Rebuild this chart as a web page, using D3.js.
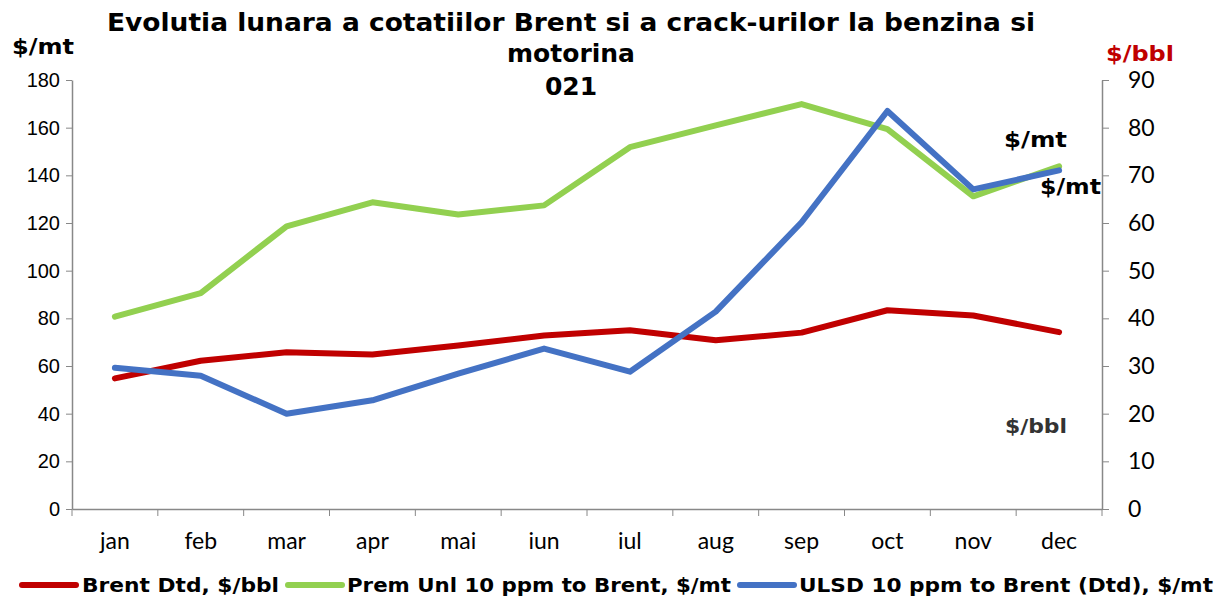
<!DOCTYPE html>
<html>
<head>
<meta charset="utf-8">
<script src="https://cdn.jsdelivr.net/npm/d3@7"></script>
<style>
  body { margin: 0; background: #fff; }
  svg { display: block; }
</style>
</head>
<body>
<svg id="chart" width="1224" height="599"></svg>
<script>
const months = ['jan', 'feb', 'mar', 'apr', 'mai', 'iun', 'iul', 'aug', 'sep', 'oct', 'nov', 'dec'];
// right axis, $/bbl
const brent = [27.4, 31.1, 32.9, 32.4, 34.3, 36.4, 37.5, 35.4, 37.0, 41.7, 40.6, 37.1];
// left axis, $/mt
const premUnl = [80.7, 90.6, 118.6, 128.7, 123.6, 127.4, 151.8, 161.0, 169.9, 159.4, 131.2, 143.8];
const ulsd = [59.3, 55.9, 40.0, 45.6, 56.8, 67.3, 57.6, 82.8, 120.3, 167.0, 134.1, 142.1];
const leftTicks = [0, 20, 40, 60, 80, 100, 120, 140, 160, 180];
const rightTicks = [0, 10, 20, 30, 40, 50, 60, 70, 80, 90];

const svg = d3.select('#chart');
const margin = { top: 80, right: 122, bottom: 90, left: 72 };
const width = 1224 - margin.left - margin.right;
const height = 599 - margin.top - margin.bottom;

const g = svg.append('g')
  .attr('transform', `translate(${margin.left},${margin.top})`);

const x = d3.scaleBand().domain(months).range([0, width]);
const yL = d3.scaleLinear().domain([0, 180]).range([height, 0]);
const yR = d3.scaleLinear().domain([0, 90]).range([height, 0]);

// left axis
const axL = g.append('g')
  .call(d3.axisLeft(yL).tickValues(leftTicks).tickSize(6).tickSizeOuter(0));
axL.selectAll('text')
  .attr('font-family', '"Liberation Sans Narrow", "Arial Narrow", sans-serif')
  .attr('font-size', 20).attr('fill', '#000').attr('x', -12);

// right axis
const axR = g.append('g')
  .attr('transform', `translate(${width},0)`)
  .call(d3.axisRight(yR).tickValues(rightTicks).tickSize(7).tickSizeOuter(0));
axR.selectAll('text')
  .attr('font-family', 'Lato, "Open Sans", sans-serif')
  .attr('font-size', 23).attr('fill', '#000').attr('x', 26);

// bottom axis, ticks at category edges
const axB = g.append('g')
  .attr('transform', `translate(0,${height})`)
  .call(d3.axisBottom(x).tickSize(0).tickSizeOuter(0));
axB.selectAll('text')
  .attr('font-family', 'Lato, "Open Sans", sans-serif')
  .attr('font-size', 23).attr('fill', '#000').attr('dy', '1.6em');
axB.selectAll('.edge')
  .data(d3.range(months.length + 1))
  .enter().append('line')
  .attr('x1', (i) => i * x.bandwidth())
  .attr('x2', (i) => i * x.bandwidth())
  .attr('y1', 0).attr('y2', 7)
  .attr('stroke', '#888');

g.selectAll('.domain').attr('stroke', '#888').attr('stroke-width', 1.5);
g.selectAll('.tick line').attr('stroke', '#888');

const cx = (d, i) => x(months[i]) + x.bandwidth() / 2;
const lineL = d3.line().x(cx).y((d) => yL(d));
const lineR = d3.line().x(cx).y((d) => yR(d));

const series = [
  { name: 'Brent Dtd, $/bbl', data: brent, line: lineR, color: '#C00000' },
  { name: 'Prem Unl 10 ppm to Brent, $/mt', data: premUnl, line: lineL, color: '#92D050' },
  { name: 'ULSD 10 ppm to Brent (Dtd), $/mt', data: ulsd, line: lineL, color: '#4472C4' },
];

series.forEach((s) => {
  g.append('path')
    .datum(s.data)
    .attr('d', s.line)
    .attr('fill', 'none')
    .attr('stroke', s.color)
    .attr('stroke-width', 6)
    .attr('stroke-linejoin', 'round')
    .attr('stroke-linecap', 'round');
});

// title
const bold = 'Tahoma, "DejaVu Sans", sans-serif';
const title = svg.append('text')
  .attr('text-anchor', 'middle')
  .attr('font-family', bold)
  .attr('font-weight', 'bold')
  .attr('font-size', 25)
  .attr('fill', '#000');
title.append('tspan').attr('x', 571).attr('y', 31)
  .attr('textLength', 928).attr('lengthAdjust', 'spacingAndGlyphs')
  .text('Evolutia lunara a cotatiilor Brent si a crack-urilor la benzina si');
title.append('tspan').attr('x', 571).attr('y', 62).text('motorina');
title.append('tspan').attr('x', 571).attr('y', 95).text('021');

// unit labels
const label = (tx, ty, text, color, size, tw) => svg.append('text')
  .attr('x', tx).attr('y', ty)
  .attr('font-family', bold).attr('font-weight', 'bold')
  .attr('font-size', size).attr('fill', color)
  .attr('textLength', tw).attr('lengthAdjust', 'spacingAndGlyphs')
  .text(text);
label(12, 54, '$/mt', '#000', 22, 62);
label(1106, 61, '$/bbl', '#C00000', 22, 68);
label(1004, 147, '$/mt', '#000', 21, 63);
label(1040, 194, '$/mt', '#000', 21, 61);
label(1005, 433, '$/bbl', '#333', 20, 62);

// legend
const legendPos = [
  { lx: 22, lw: 54, tx: 82, tw: 197 },
  { lx: 288, lw: 54, tx: 347, tw: 384 },
  { lx: 740, lw: 54, tx: 799, tw: 414 },
];
const legend = svg.append('g');
series.forEach((s, i) => {
  const p = legendPos[i];
  legend.append('line')
    .attr('x1', p.lx).attr('x2', p.lx + p.lw)
    .attr('y1', 585).attr('y2', 585)
    .attr('stroke', s.color).attr('stroke-width', 6)
    .attr('stroke-linecap', 'round');
  legend.append('text')
    .attr('x', p.tx).attr('y', 592)
    .attr('font-family', bold).attr('font-weight', 'bold')
    .attr('font-size', 19)
    .attr('textLength', p.tw).attr('lengthAdjust', 'spacingAndGlyphs')
    .text(s.name);
});
</script>
</body>
</html>
